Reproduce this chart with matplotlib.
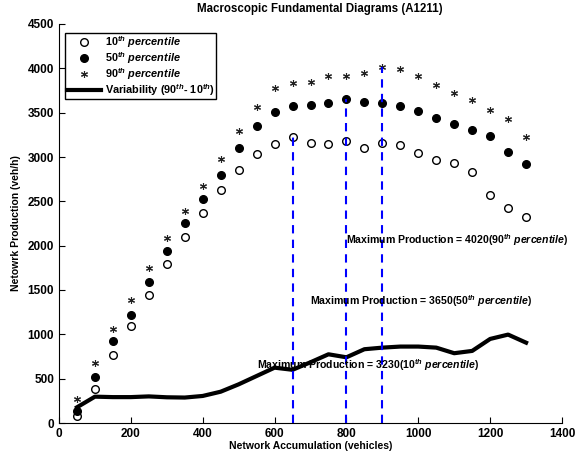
import numpy as np
import matplotlib

matplotlib.use("Agg")
import matplotlib.pyplot as plt

plt.rcParams["font.family"] = "Liberation Sans"
plt.rcParams["font.weight"] = "bold"
plt.rcParams["mathtext.fontset"] = "custom"
plt.rcParams["mathtext.rm"] = "Liberation Sans:bold"
plt.rcParams["mathtext.bf"] = "Liberation Sans:bold"
plt.rcParams["mathtext.it"] = "Liberation Sans:italic:bold"

accumulation = np.arange(50, 1301, 50)
p10 = [82, 380, 767, 1095, 1445, 1795, 2103, 2374, 2626, 2852, 3033, 3149, 3230,
       3155, 3143, 3175, 3107, 3160, 3138, 3044, 2961, 2931, 2833, 2573, 2423, 2322]
p50 = [135, 516, 929, 1223, 1591, 1941, 2254, 2525, 2796, 3096, 3352, 3510, 3570,
       3589, 3608, 3650, 3615, 3604, 3578, 3518, 3439, 3367, 3307, 3239, 3051, 2920]
p90 = [267, 681, 1057, 1388, 1746, 2084, 2393, 2675, 2976, 3288, 3563, 3780, 3840,
       3845, 3916, 3909, 3943, 4020, 3995, 3909, 3815, 3721, 3646, 3530, 3423, 3228]
variability = [177, 297, 292, 292, 300, 290, 287, 305, 353, 436, 530, 624, 600,
               685, 775, 741, 832, 850, 862, 862, 850, 787, 813, 948, 997, 906]

max_x = [650, 800, 900]
max_y = [3230, 3650, 4020]
max_pct = ["10", "50", "90"]
label_pos = [(550, 650), (700, 1370), (800, 2060)]

fig = plt.figure(figsize=(5.79, 4.59), dpi=100)
ax = fig.add_axes([59 / 579, 36 / 459, 503 / 579, 399 / 459])

ax.plot(accumulation, p10, "o", mfc="white", mec="black", ms=5.5, mew=1.0,
        label=r"$\mathit{10^{th}\ percentile}$")
ax.plot(accumulation, p50, "o", mfc="black", mec="black", ms=5.5,
        label=r"$\mathit{50^{th}\ percentile}$")
ax.plot(accumulation, p90, marker=(6, 2, 0), ls="none", color="#222222", ms=5, mew=0.8,
        label=r"$\mathit{90^{th}\ percentile}$")
ax.plot(accumulation, variability, "-", color="black", lw=3,
        label=r"Variability ($\mathit{90^{th}}$- $\mathit{10^{th}}$)")

for xv, yv in zip(max_x, max_y):
    ax.plot([xv, xv], [0, yv], "--", color="#0000ff", lw=1.5, dashes=(4, 3))

for (tx, ty), val, pct in zip(label_pos, max_y, max_pct):
    ax.text(tx, ty, "Maximum Production = %d($\\mathit{%s^{th}\\ percentile}$)" % (val, pct),
            fontsize=7.6, fontweight="bold", va="center", ha="left")

ax.set_xlim(0, 1400)
ax.set_ylim(0, 4500)
ax.set_xticks(np.arange(0, 1401, 200))
ax.set_yticks(np.arange(0, 4501, 500))
ax.tick_params(direction="in", labelsize=8.5, length=4, width=0.8)
for lab in ax.get_xticklabels() + ax.get_yticklabels():
    lab.set_fontweight("bold")
ax.spines["top"].set_visible(False)
ax.spines["right"].set_visible(False)
ax.set_xlabel("Network Accumulation (vehicles)", fontsize=7.5, fontweight="bold", labelpad=1)
ax.set_ylabel("Netowrk Production (veh/h)", fontsize=7.5, fontweight="bold", labelpad=5)
fig.text(320 / 579, 1 - 9 / 459, "Macroscopic Fundamental Diagrams (A1211)",
         fontsize=8.3, fontweight="bold", ha="center", va="center")

leg = ax.legend(loc="upper left", bbox_to_anchor=(0.012, 0.978), fontsize=7.8,
                frameon=True, fancybox=False, edgecolor="black", framealpha=1,
                handlelength=3.2, borderpad=0.15, labelspacing=0.0, handletextpad=0.3,
                borderaxespad=0)
leg.get_frame().set_linewidth(1.0)

fig.savefig("out.png", dpi=100)
